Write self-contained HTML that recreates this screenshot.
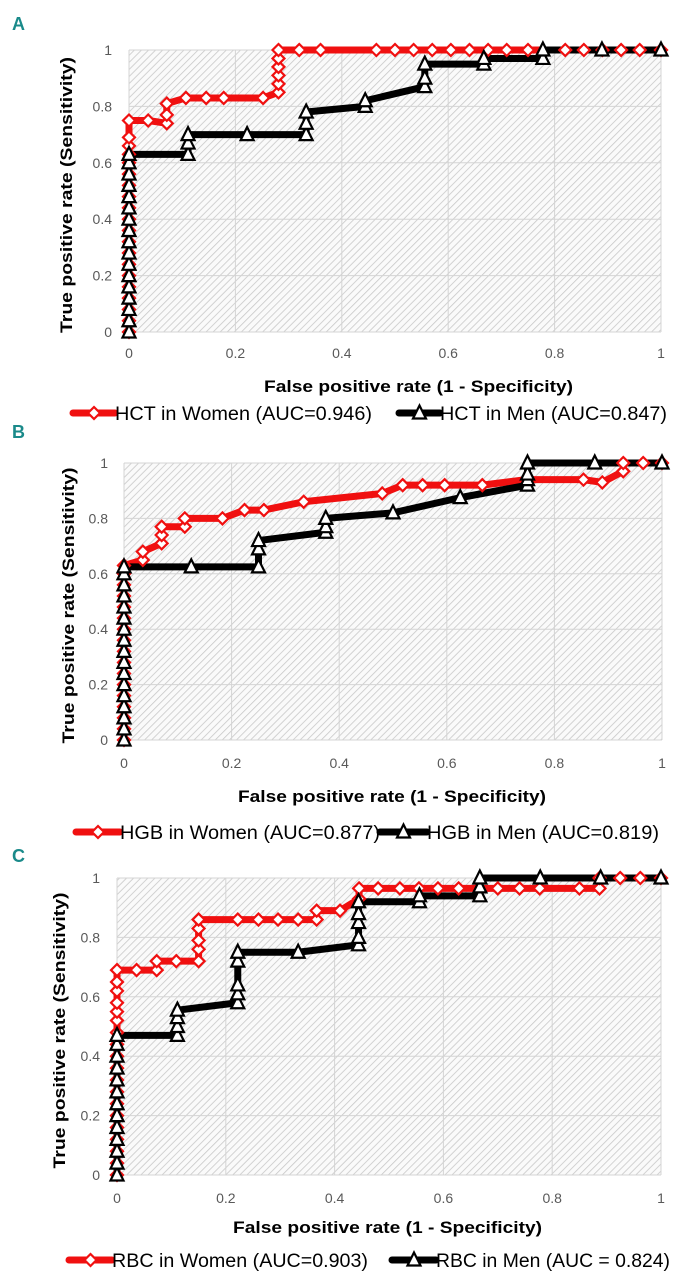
<!DOCTYPE html>
<html><head><meta charset="utf-8"><style>
html,body{margin:0;padding:0;background:#fff;}
svg{display:block;font-family:"Liberation Sans",sans-serif;}
</style></head><body>
<svg id="chart" width="689" height="1280" viewBox="0 0 689 1280" xmlns="http://www.w3.org/2000/svg">
<defs>
<pattern id="hatch" patternUnits="userSpaceOnUse" width="5" height="5" patternTransform="rotate(45)">
<rect width="5" height="5" fill="#fafafa"/>
<line x1="0" y1="0" x2="0" y2="5" stroke="#c8c8c8" stroke-width="1.6"/>
</pattern>
</defs>
</svg>
<script>
// Panel A (HCT)
const aWomenX=[0,0,0,0,0,0,0,0,0,0,0,0,0,0,0,0,0,0,0,0,0.036,0.071,0.071,0.071,0.107,0.145,0.178,0.252,0.281,0.281,0.281,0.281,0.281,0.281,0.32,0.36,0.465,0.5,0.535,0.57,0.605,0.64,0.675,0.71,0.75,0.82,0.855,0.89,0.925,0.96,1];
const aWomenY=[0,0.04,0.08,0.12,0.16,0.2,0.24,0.28,0.32,0.36,0.4,0.44,0.48,0.52,0.56,0.6,0.63,0.66,0.69,0.75,0.75,0.74,0.77,0.81,0.83,0.83,0.83,0.83,0.85,0.88,0.91,0.94,0.97,1,1,1,1,1,1,1,1,1,1,1,1,1,1,1,1,1,1];
const aMenX=[0,0,0,0,0,0,0,0,0,0,0,0,0,0,0,0,0,0.111,0.111,0.111,0.222,0.333,0.333,0.333,0.444,0.444,0.556,0.556,0.556,0.667,0.667,0.778,0.778,0.889,1];
const aMenY=[0,0.04,0.08,0.12,0.16,0.2,0.24,0.28,0.32,0.36,0.4,0.44,0.48,0.52,0.56,0.6,0.63,0.63,0.67,0.70,0.70,0.70,0.74,0.78,0.80,0.82,0.87,0.90,0.95,0.95,0.97,0.97,1,1,1];
// Panel B (HGB)
const bWomenX=[0,0,0,0,0,0,0,0,0,0,0,0,0,0,0,0,0,0.035,0.035,0.07,0.07,0.07,0.113,0.113,0.183,0.224,0.26,0.334,0.48,0.518,0.555,0.596,0.666,0.748,0.854,0.889,0.928,0.928,0.965,1];
const bWomenY=[0,0.04,0.08,0.12,0.16,0.2,0.24,0.28,0.32,0.36,0.4,0.44,0.48,0.52,0.56,0.6,0.63,0.65,0.68,0.71,0.74,0.77,0.77,0.80,0.80,0.83,0.83,0.86,0.89,0.92,0.92,0.92,0.92,0.94,0.94,0.93,0.97,1,1,1];
const bMenX=[0,0,0,0,0,0,0,0,0,0,0,0,0,0,0,0,0,0.125,0.25,0.25,0.25,0.375,0.375,0.375,0.5,0.625,0.75,0.75,0.75,0.75,0.875,1];
const bMenY=[0,0.04,0.08,0.12,0.16,0.2,0.24,0.28,0.32,0.36,0.4,0.44,0.48,0.52,0.56,0.6,0.625,0.625,0.625,0.69,0.72,0.75,0.77,0.80,0.82,0.875,0.92,0.94,0.96,1,1,1];
// Panel C (RBC)
const cWomenX=[0,0,0,0,0,0,0,0,0,0,0,0,0,0,0,0,0,0,0,0.036,0.073,0.073,0.109,0.15,0.15,0.15,0.15,0.15,0.222,0.26,0.296,0.333,0.367,0.367,0.41,0.445,0.445,0.48,0.52,0.555,0.59,0.628,0.665,0.70,0.74,0.777,0.85,0.887,0.887,0.925,0.962,1];
const cWomenY=[0,0.04,0.08,0.12,0.16,0.2,0.24,0.28,0.32,0.36,0.4,0.44,0.48,0.52,0.55,0.58,0.62,0.65,0.69,0.69,0.69,0.72,0.72,0.72,0.76,0.79,0.83,0.86,0.86,0.86,0.86,0.86,0.86,0.89,0.89,0.93,0.965,0.965,0.965,0.965,0.965,0.965,0.965,0.965,0.965,0.965,0.965,0.965,1,1,1,1];
const cMenX=[0,0,0,0,0,0,0,0,0,0,0,0,0,0.111,0.111,0.111,0.111,0.222,0.222,0.222,0.222,0.222,0.333,0.444,0.444,0.444,0.444,0.444,0.556,0.556,0.667,0.667,0.667,0.778,0.889,1];
const cMenY=[0,0.04,0.08,0.12,0.16,0.2,0.24,0.28,0.32,0.36,0.4,0.44,0.47,0.47,0.50,0.53,0.555,0.58,0.61,0.64,0.72,0.75,0.75,0.775,0.80,0.85,0.88,0.92,0.92,0.94,0.94,0.97,1,1,1,1];

const xTicks=[0,0.2,0.4,0.6,0.8,1];
const xTickLabels=["0","0.2","0.4","0.6","0.8","1"];
const yTicks=[0,0.2,0.4,0.6,0.8,1];
const yTickLabels=["0","0.2","0.4","0.6","0.8","1"];

const panels=[
 {id:'a',letter:'A',lx:12,ly:30,x0:129,x1:661,y0:332,y1:50,ytx:112,xty:358,ytitleX:66,xtitle:[264,309,392],
  legY:413,legR:[73,115,115,257,"HCT in Women (AUC=0.946)"],legB:[399,440,440,227,"HCT in Men (AUC=0.847)"],
  wx:aWomenX,wy:aWomenY,mx:aMenX,my:aMenY},
 {id:'b',letter:'B',lx:12,ly:438,x0:124,x1:662,y0:740,y1:463,ytx:108,xty:768,ytitleX:68,xtitle:[238,308,802],
  legY:832,legR:[76,120,120,260,"HGB in Women (AUC=0.877)"],legB:[380,427,427,232,"HGB in Men (AUC=0.819)"],
  wx:bWomenX,wy:bWomenY,mx:bMenX,my:bMenY},
 {id:'c',letter:'C',lx:12,ly:862,x0:117,x1:661,y0:1175,y1:878,ytx:100,xty:1203,ytitleX:59,xtitle:[233,309,1233],
  legY:1260,legR:[69,112,112,256,"RBC in Women (AUC=0.903)"],legB:[392,436,436,234,"RBC in Men (AUC = 0.824)"],
  wx:cWomenX,wy:cWomenY,mx:cMenX,my:cMenY}
];
const NS='http://www.w3.org/2000/svg';
const svg=document.getElementById('chart');
function mk(tag,attrs,parent){const e=document.createElementNS(NS,tag);for(const k in attrs)e.setAttribute(k,attrs[k]);(parent||svg).appendChild(e);return e;}
function diamond(cx,cy,g){const s=6;return mk('polygon',{points:`${cx},${cy-s} ${cx+s},${cy} ${cx},${cy+s} ${cx-s},${cy}`,fill:'#fff',stroke:'#f01010','stroke-width':2.2},g);}
function tri(cx,cy,g){const s=6.5;return mk('polygon',{points:`${cx},${cy-s-1} ${cx+s},${cy+s-1} ${cx-s},${cy+s-1}`,fill:'#fff',stroke:'#000','stroke-width':2.2},g);}

panels.forEach(p=>{
 const g=mk('g',{});
 
 
 const sx=v=>p.x0+v*(p.x1-p.x0);
 const sy=v=>p.y0-v*(p.y0-p.y1);
 const lt=mk('text',{x:p.lx,y:p.ly,fill:'#1a8a8a','font-size':18,'font-weight':'bold'},g);
 lt.textContent=p.letter;
 
 
 const bg=mk('rect',{x:p.x0,y:p.y1,width:p.x1-p.x0,height:p.y0-p.y1,fill:'url(#hatch)'},g);
 
 
 xTicks.forEach((t,i)=>{
  const l=mk('line',{x1:sx(t),x2:sx(t),y1:p.y1,y2:p.y0,stroke:'#d4d4d4','stroke-width':1},g);
  
  
  const tx=mk('text',{x:sx(t),y:p.xty,'text-anchor':'middle',fill:'#595959','font-size':14},g);
  tx.textContent=xTickLabels[i];
  
  
 });
 yTicks.forEach((t,i)=>{
  const l=mk('line',{x1:p.x0,x2:p.x1,y1:sy(t),y2:sy(t),stroke:'#d4d4d4','stroke-width':1},g);
  
  
  const tx=mk('text',{x:p.ytx,y:sy(t)+5,'text-anchor':'end',fill:'#595959','font-size':14},g);
  tx.textContent=yTickLabels[i];
  
  
 });
 const yc=(p.y0+p.y1)/2+4;
 const yt=mk('text',{x:0,y:0,transform:`translate(${p.ytitleX+6},${yc}) rotate(-90)`,'text-anchor':'middle','font-size':17,'font-weight':'bold',fill:'#000',textLength:276,lengthAdjust:'spacingAndGlyphs'},g);
 yt.textContent='True positive rate (Sensitivity)';
 
 
 const xt=mk('text',{x:p.xtitle[0],y:p.xtitle[2],'font-size':17,'font-weight':'bold',fill:'#000',textLength:p.xtitle[1],lengthAdjust:'spacingAndGlyphs'},g);
 xt.textContent='False positive rate (1 - Specificity)';
 
 
 const series=[[p.wx,p.wy,'#f01010',diamond,'women'],[p.mx,p.my,'#000',tri,'men']];
 series.forEach(s=>{
  const pts=s[0].map((x,i)=>sx(x)+','+sy(s[1][i])).join(' ');
  const pl=mk('polyline',{points:pts,fill:'none',stroke:s[2],'stroke-width':7,'stroke-linejoin':'round'},g);
  
  
 });
 series.forEach(s=>{
  s[0].forEach((x,i)=>{
   const m=s[3](sx(x),sy(s[1][i]),g);
   
   
  });
 });
 [[p.legR,'#f01010',diamond,'women'],[p.legB,'#000',tri,'men']].forEach(L=>{
  const d=L[0];
  const lg=mk('g',{},g);
  
  
  mk('line',{x1:d[0],x2:d[1],y1:p.legY,y2:p.legY,stroke:L[1],'stroke-width':7,'stroke-linecap':'round'},lg);
  L[2]((d[0]+d[1])/2,p.legY,lg);
  const t=mk('text',{x:d[2],y:p.legY+7,'font-size':19,fill:'#000',textLength:d[3],lengthAdjust:'spacingAndGlyphs'},lg);
  t.textContent=d[4];
 });
});
</script>
</body></html>
